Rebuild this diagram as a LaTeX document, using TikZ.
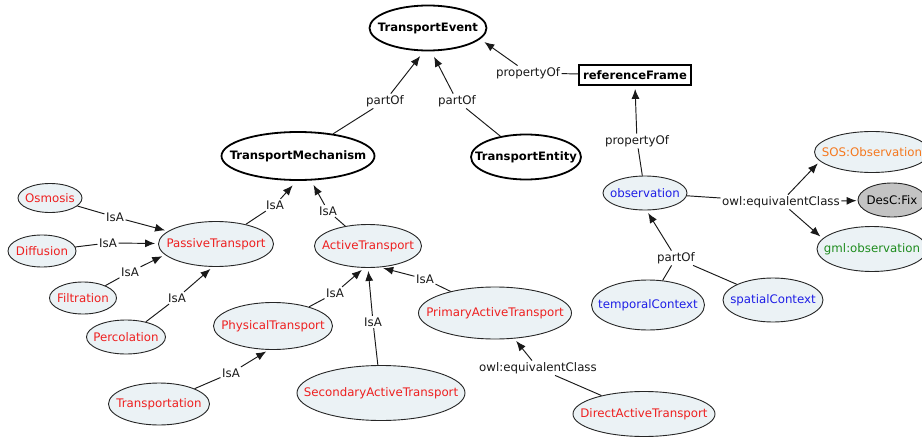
\documentclass[tikz,border=0pt]{standalone}
\usepackage{fontspec}
\setmainfont{DejaVu Sans}
\usetikzlibrary{shapes.geometric,arrows.meta}
\definecolor{tred}{RGB}{238,32,32}
\definecolor{tblue}{RGB}{30,30,230}
\definecolor{torange}{RGB}{245,120,30}
\definecolor{tgreen}{RGB}{30,140,30}
\definecolor{cfill}{RGB}{235,242,245}
\definecolor{gfill}{RGB}{195,195,195}
\newcommand{\zw}[1]{\makebox[0pt]{#1}}
\begin{document}
\begin{tikzpicture}[x=1pt,y=-1pt,
  every node/.style={font=\fontsize{11.8}{14}\selectfont},
  cls/.style={ellipse, draw=black!85, line width=0.9pt, fill=cfill, inner sep=0pt},
  redc/.style={cls, text=tred},
  bluec/.style={cls, text=tblue},
  mainc/.style={ellipse, draw=black, line width=1.8pt, fill=white, inner sep=0pt, font=\fontsize{11.6}{14}\selectfont\bfseries},
  lbl/.style={inner sep=1.5pt, text=black!90},
  conn/.style={draw=black!90, line width=0.95pt},
  arr/.style={conn, -{Latex[length=10pt,width=8pt]}, shorten >=3pt},
]
\clip (0,0) rectangle (922,439);
\fill[white] (0,0) rectangle (922,439);

% main nodes
\node[mainc, minimum width=117pt, minimum height=45pt] (event) at (428,28) {\zw{TransportEvent}};
\node[mainc, minimum width=153pt, minimum height=48pt] (mech) at (298,156) {\zw{TransportMechanism}};
\node[mainc, minimum width=110pt, minimum height=45pt] (entity) at (526,157) {\zw{TransportEntity}};
\node[draw=black, line width=1.8pt, fill=white, inner sep=0pt, minimum width=112pt, minimum height=20pt, font=\fontsize{11.6}{14}\selectfont\bfseries] (ref) at (635,75) {\zw{referenceFrame}};

% right nodes
\node[bluec, minimum width=84pt, minimum height=34pt] (obs) at (645,193) {\zw{observation}};
\node[cls, text=torange, minimum width=115pt, minimum height=41pt] (sos) at (872,152) {\zw{SOS:Observation}};
\node[ellipse, draw=black!85, line width=0.9pt, fill=gfill, inner sep=0pt, minimum width=68pt, minimum height=34pt] (desc) at (892,200) {\zw{DesC:Fix}};
\node[cls, text=tgreen, minimum width=110pt, minimum height=45pt] (gml) at (872,249) {\zw{gml:observation}};
\node[bluec, minimum width=113pt, minimum height=50pt] (temporal) at (648,305) {\zw{temporalContext}};
\node[bluec, minimum width=100pt, minimum height=44pt] (spatial) at (773,300) {\zw{spatialContext}};

% left nodes
\node[redc, minimum width=64pt, minimum height=29pt] (osmosis) at (50,198) {\zw{Osmosis}};
\node[redc, minimum width=68pt, minimum height=32pt] (diffusion) at (42,251) {\zw{Diffusion}};
\node[redc, minimum width=67pt, minimum height=32pt] (filtration) at (83,298) {\zw{Filtration}};
\node[redc, minimum width=79pt, minimum height=34pt] (percolation) at (126,337) {\zw{Percolation}};
\node[redc, minimum width=115pt, minimum height=45pt] (passive) at (216,244) {\zw{PassiveTransport}};
\node[redc, minimum width=107pt, minimum height=43pt] (active) at (368,246) {\zw{ActiveTransport}};
\node[redc, minimum width=119pt, minimum height=47pt] (physical) at (273,326) {\zw{PhysicalTransport}};
\node[redc, minimum width=101pt, minimum height=42pt] (transportation) at (159,404) {\zw{Transportation}};
\node[redc, minimum width=168pt, minimum height=55pt] (secondary) at (381,393) {\zw{SecondaryActiveTransport}};
\node[redc, minimum width=153pt, minimum height=52pt] (primary) at (495,313) {\zw{PrimaryActiveTransport}};
\node[redc, minimum width=142pt, minimum height=45pt] (direct) at (644,414) {\zw{DirectActiveTransport}};

% labels
\node[lbl] (losm) at (115,217) {IsA};
\node[lbl] (ldif) at (108,243) {IsA};
\node[lbl] (lfil) at (130,272) {IsA};
\node[lbl] (lper) at (177,298) {IsA};
\node[lbl] (lpas) at (275,205) {IsA};
\node[lbl] (lact) at (328,211) {IsA};
\node[lbl] (lphy) at (335,293) {IsA};
\node[lbl] (lsec) at (373,322) {IsA};
\node[lbl] (lpri) at (425,279) {IsA};
\node[lbl] (ltra) at (231,373) {IsA};
\node[lbl] (ldir) at (538,368) {owl:equivalentClass};
\node[lbl] (lmech) at (385,101) {partOf};
\node[lbl] (lent) at (457,101) {partOf};
\node[lbl] (lref) at (528,73) {propertyOf};
\node[lbl] (lobs) at (637,141) {propertyOf};
\node[lbl] (lctx) at (676,258) {partOf};
\node[lbl] (leq) at (781,202) {owl:equivalentClass};

% connectors
\draw[conn] (osmosis) -- (losm); \draw[arr] (losm) -- (passive);
\draw[conn] (diffusion) -- (ldif); \draw[arr] (ldif) -- (passive);
\draw[conn] (filtration) -- (lfil); \draw[arr] (lfil) -- (passive.192);
\draw[conn] (percolation) -- (lper); \draw[arr] (lper) -- (passive.-98);
\draw[conn] (passive) -- (lpas); \draw[arr, shorten >=6pt] (lpas) -- (mech.-93);
\draw[conn] (active) -- (lact); \draw[arr, shorten >=5pt] (lact) -- (mech.-62);
\draw[conn] (physical) -- (lphy); \draw[arr] (lphy) -- (active.-100);
\draw[conn] (secondary) -- (lsec); \draw[arr] (lsec) -- (active.-90);
\draw[conn] (primary) -- (lpri); \draw[arr] (lpri) -- (active.-60);
\draw[conn] (transportation) -- (ltra); \draw[arr] (ltra) -- (physical.-100);
\draw[conn] (direct) -- (ldir); \draw[arr] (ldir) -- (primary.-53);
\draw[conn] (mech) -- (lmech); \draw[arr, shorten >=6pt] (lmech) -- (event.-100);
\draw[conn] (entity) -- (lent); \draw[arr, shorten >=6pt] (lent) -- (event.-82);
\draw[conn] (ref) -- (lref); \draw[arr, shorten >=5pt] (lref) -- (event.-12);
\draw[conn] (obs) -- (lobs); \draw[arr] (lobs) -- (ref.south);
\draw[conn] (temporal) -- (lctx); \draw[conn] (spatial) -- (lctx); \draw[arr] (lctx) -- (obs.-85);
\draw[conn] (obs) -- (leq);
\draw[arr] (leq) -- (sos.190);
\draw[arr, shorten >=1pt] (leq) -- (desc);
\draw[arr] (leq) -- (gml.168);
\end{tikzpicture}
\end{document}
